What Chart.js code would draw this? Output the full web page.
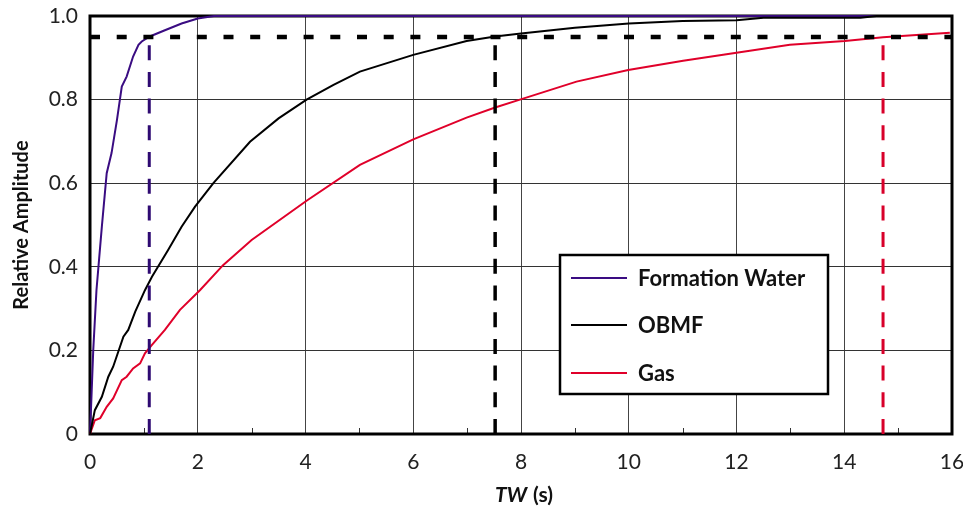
<!DOCTYPE html>
<html><head><meta charset="utf-8">
<script src="https://cdn.jsdelivr.net/npm/chart.js@4/dist/chart.umd.min.js"></script>
<style>html,body{margin:0;padding:0;background:#fff}#wrap{width:963px;height:508px}</style>
</head><body><div id="wrap"><canvas id="c" width="963" height="508"></canvas></div>
<script>
// ---- data ----
const xTickValues = [0, 2, 4, 6, 8, 10, 12, 14, 16];
const yTickValues = [0, 0.2, 0.4, 0.6, 0.8, 1.0];
const seriesNames = ['Formation Water', 'OBMF', 'Gas'];

const waterTW  = [0, 0.03, 0.06, 0.12, 0.17, 0.22, 0.31, 0.40, 0.50, 0.59, 0.68, 0.80, 0.90, 0.96, 1.11, 1.39, 1.70, 2.0, 2.3, 16];
const waterAmp = [0, 0.098, 0.20, 0.344, 0.42, 0.496, 0.624, 0.672, 0.751, 0.831, 0.855, 0.903, 0.931, 0.939, 0.951, 0.966, 0.982, 0.994, 1.0, 1.0];

const obmfTW  = [0, 0.09, 0.22, 0.34, 0.43, 0.62, 0.71, 0.84, 1.02, 1.15, 1.45, 1.70, 1.95, 2.29, 2.97, 3.5, 4.02, 4.52, 5.01, 6.0, 6.99, 7.52, 8.0, 9.0, 10.0, 11.0, 12.0, 12.5, 14.3, 14.6, 16];
const obmfAmp = [0, 0.057, 0.089, 0.137, 0.161, 0.233, 0.249, 0.293, 0.344, 0.376, 0.440, 0.496, 0.544, 0.600, 0.699, 0.755, 0.800, 0.835, 0.867, 0.907, 0.940, 0.951, 0.958, 0.972, 0.982, 0.988, 0.990, 0.996, 0.996, 1.0, 1.0];

const gasTW  = [0, 0.09, 0.19, 0.31, 0.43, 0.59, 0.68, 0.80, 0.93, 1.02, 1.15, 1.39, 1.67, 2.04, 2.47, 3.0, 4.02, 5.01, 6.0, 6.99, 7.52, 7.98, 9.03, 9.99, 11.01, 12.0, 12.99, 14.01, 14.72, 15.96];
const gasAmp = [0, 0.033, 0.038, 0.065, 0.085, 0.129, 0.137, 0.157, 0.169, 0.193, 0.213, 0.249, 0.297, 0.344, 0.404, 0.464, 0.558, 0.644, 0.705, 0.757, 0.781, 0.800, 0.843, 0.871, 0.893, 0.912, 0.931, 0.940, 0.949, 0.960];

const threshold = 0.95;
const crossTW = [1.1, 7.52, 14.72];   // Formation Water, OBMF, Gas reaching 95%

const colors = ['#3a0c82', '#000000', '#e0002a'];
const dashColors = ['#2e0a72', '#000000', '#d8002a'];

// ---- build ----
const pts = (xs, ys) => xs.map((x, i) => ({x, y: ys[i]}));
const datasets = [];
datasets.push({label: 'thr', data: pts([0, 16], [threshold, threshold]), borderColor: '#000', borderWidth: 4.5, borderDash: [10, 16.7], order: 0, legend: false});
crossTW.forEach((t, i) => {
  datasets.push({label: 'v' + i, data: pts([t, t], [0, threshold]), borderColor: dashColors[i], borderWidth: i === 1 ? 3.5 : 3, borderDash: [15, 11.7], order: 0, legend: false});
});
datasets.push({label: seriesNames[1], data: pts(obmfTW, obmfAmp), borderColor: colors[1], borderWidth: 2, order: 1, legend: true});
datasets.push({label: seriesNames[2], data: pts(gasTW, gasAmp), borderColor: colors[2], borderWidth: 2, order: 2, legend: true});
datasets.push({label: seriesNames[0], data: pts(waterTW, waterAmp), borderColor: colors[0], borderWidth: 2, order: 3, legend: true});
datasets.forEach(d => { d.pointRadius = 0; d.fill = false; d.tension = 0; d.clip = false; d.borderCapStyle = 'butt'; });

const FONT = 'Lato, "Open Sans", sans-serif';

const framePlugin = {
  id: 'frame',
  beforeDatasetsDraw(chart) {
    const {ctx, chartArea: a, scales: {x}} = chart;
    ctx.save();
    ctx.strokeStyle = '#333'; ctx.lineWidth = 1;
    for (let v = 1; v < 16; v += 2) {
      const px = Math.round(x.getPixelForValue(v)) + 0.5;
      ctx.beginPath(); ctx.moveTo(px, a.bottom); ctx.lineTo(px, a.bottom - 6); ctx.stroke();
    }
    ctx.strokeStyle = '#000'; ctx.lineWidth = 3;
    ctx.strokeRect(a.left, a.top, a.right - a.left, a.bottom - a.top);
    ctx.restore();
  },
  afterDraw(chart) {
    const {ctx, chartArea: a} = chart;
    ctx.save();
    ctx.fillStyle = '#111';
    ctx.textBaseline = 'middle';
    const p1 = 'TW', p2 = ' (s)';
    ctx.font = 'italic bold 21px ' + FONT;
    const w1 = ctx.measureText(p1).width;
    ctx.font = 'bold 21px ' + FONT;
    const w2 = ctx.measureText(p2).width;
    const cx = (a.left + a.right) / 2 + 3;
    const sx = cx - (w1 + w2 + 1) / 2;
    ctx.textAlign = 'left';
    ctx.font = 'italic bold 21px ' + FONT;
    ctx.fillText(p1, sx, 495);
    ctx.font = 'bold 21px ' + FONT;
    ctx.fillText(p2, sx + w1 + 1, 495);
    ctx.save();
    ctx.translate(22, (a.top + a.bottom) / 2);
    ctx.rotate(-Math.PI / 2);
    ctx.textAlign = 'center';
    ctx.font = 'bold 20px ' + FONT;
    ctx.fillText('Relative Amplitude', 0, 0);
    ctx.restore();

    // legend box
    const bx = 560, by = 255, bw = 268, bh = 139;
    ctx.fillStyle = '#fff';
    ctx.fillRect(bx, by, bw, bh);
    ctx.strokeStyle = '#000'; ctx.lineWidth = 2.5;
    ctx.strokeRect(bx, by, bw, bh);
    const rows = [278, 325, 373];
    const items = chart.data.datasets.filter(d => d.legend);
    seriesNames.forEach((name, i) => {
      const d = items.find(it => it.label === name);
      ctx.strokeStyle = d.borderColor; ctx.lineWidth = 2;
      ctx.beginPath(); ctx.moveTo(571, rows[i]); ctx.lineTo(627, rows[i]); ctx.stroke();
      ctx.fillStyle = '#111';
      ctx.font = 'bold 22px ' + FONT;
      ctx.textAlign = 'left'; ctx.textBaseline = 'middle';
      ctx.fillText(name, 638, rows[i] + 1);
    });
    ctx.restore();
  }
};

new Chart(document.getElementById('c'), {
  type: 'line',
  data: {datasets},
  options: {
    responsive: false,
    animation: false,
    layout: {padding: {left: 0, right: 11, top: 16, bottom: 0}},
    plugins: {legend: {display: false}, tooltip: {enabled: false}},
    scales: {
      x: {
        type: 'linear', min: 0, max: 16,
        afterBuildTicks: s => { s.ticks = xTickValues.map(v => ({value: v})); },
        afterFit: s => { s.height = 74; s.paddingLeft = 0; s.paddingRight = 0; },
        grid: {color: '#444', lineWidth: 1, drawTicks: false},
        border: {display: false},
        ticks: {padding: 16, color: '#222', font: {family: FONT, size: 21}, maxRotation: 0, autoSkip: false}
      },
      y: {
        type: 'linear', min: 0, max: 1,
        afterBuildTicks: s => { s.ticks = yTickValues.map(v => ({value: v})); },
        afterFit: s => { s.width = 90; s.paddingTop = 0; s.paddingBottom = 0; },
        grid: {color: '#333', lineWidth: 1, drawTicks: false},
        border: {display: false},
        ticks: {padding: 12, color: '#222', font: {family: FONT, size: 21},
          callback: v => v === 0 ? '0' : v.toFixed(1)}
      }
    }
  },
  plugins: [framePlugin]
});
</script></body></html>
